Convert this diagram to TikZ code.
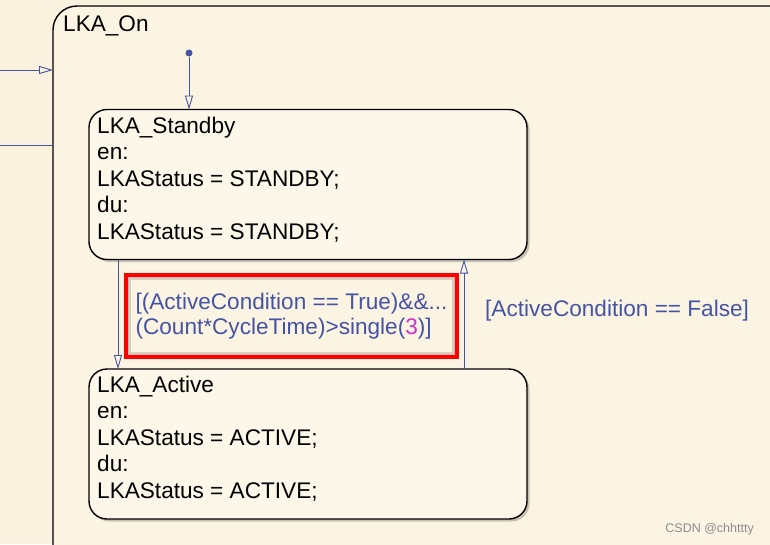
\documentclass[tikz,border=0pt]{standalone}
\usepackage{fontspec}
\setmainfont{Liberation Sans}
\usetikzlibrary{arrows.meta,shadows,positioning}
\definecolor{chartbg}{HTML}{FAF1DE}
\definecolor{onfill}{HTML}{FCF4E2}
\definecolor{statefill}{HTML}{FDF7E9}
\definecolor{transblue}{HTML}{4553A3}
\definecolor{numpink}{HTML}{CC33CC}
\tikzset{
  trans/.style={draw=transblue, line width=0.9pt, -{Triangle[open,length=14pt,width=8pt]}},
  state/.style={draw=black, line width=1.4pt, fill=statefill, rounded corners=18pt,
    minimum width=438pt, minimum height=150pt, inner sep=0pt, outer sep=0pt,
    drop shadow={shadow xshift=2.5pt, shadow yshift=-2.5pt, opacity=.3, fill=black!70}},
  statetext/.style={align=left, inner sep=0pt, font=\fontsize{22.6}{26.5}\selectfont},
  guardtext/.style={text=transblue, font=\fontsize{22.6}{25.5}\selectfont}
}
\begin{document}
\begin{tikzpicture}[x=1pt,y=-1pt]
\useasboundingbox (0,0) rectangle (770,544);
\clip (0,0) rectangle (770,544);
\fill[chartbg] (0,0) rectangle (770,544);

\node[draw=black, line width=1.4pt, fill=onfill, rounded corners=24pt, inner sep=0pt, outer sep=0pt,
  minimum width=777pt, minimum height=594pt] (on) at (441.5,303) {};
\node[anchor=base west, inner sep=0pt, font=\fontsize{22.6}{26}\selectfont] (ontxt) at (63,31) {LKA\_On};

\coordinate (in1) at (0,70);
\coordinate (in2) at (0,145);
\draw[trans] (in1) -- (in1 -| on.west);
\draw[transblue, line width=0.9pt] (in2) -- (in2 -| on.west);

\node[state] (standby) at (308,184.5) {};
\node[state] (active) at (308,444) {};

\node[statetext, anchor=base west] (standbytxt) at (97,239)
  {LKA\_Standby\\en:\\LKAStatus = STANDBY;\\du:\\LKAStatus = STANDBY;};
\node[statetext, anchor=base west] (activetxt) at (97,498)
  {LKA\_Active\\en:\\LKAStatus = ACTIVE;\\du:\\LKAStatus = ACTIVE;};

\node[circle, fill=transblue, inner sep=0pt, minimum size=7pt] (dflt) at (189,53) {};
\draw[trans] (dflt) -- (dflt |- standby.north);

\draw[trans] ([xshift=-190pt]standby.south) -- ([xshift=-190pt]active.north);
\draw[trans] ([xshift=156pt]active.north) -- ([xshift=156pt]standby.south);

\node[guardtext, draw=red, line width=4pt, align=left, inner sep=0pt, outer sep=0pt,
  minimum width=331pt, minimum height=82pt,
  path picture={\draw[black!60, opacity=.25, line width=10pt]
    (path picture bounding box.south west) rectangle (path picture bounding box.north east);
    \draw[black!60, opacity=.2, line width=6pt]
    (path picture bounding box.south west) rectangle (path picture bounding box.north east);}]
  (guard) at (291.5,316)
  {[(ActiveCondition == True)\&\&...\\(Count*CycleTime)>single(\textcolor{numpink}{3})]};

\node[guardtext, anchor=base west, inner sep=0pt] (back) at (485,316) {[ActiveCondition == False]};

\node[anchor=base east, inner sep=0pt, text=black!45, font=\fontsize{12.5}{14}\selectfont] (mark) at (754,532) {CSDN @chhttty};
\end{tikzpicture}
\end{document}
